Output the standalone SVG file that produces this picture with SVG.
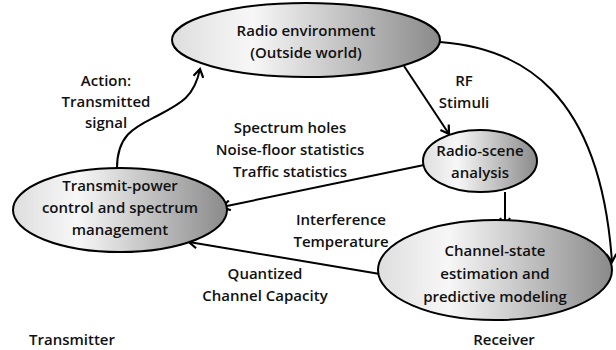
<svg xmlns="http://www.w3.org/2000/svg" width="616" height="350" viewBox="0 0 616 350">
<defs>
<linearGradient id="g" x1="0" y1="0" x2="1" y2="0">
<stop offset="0" stop-color="#dedede"/>
<stop offset="0.3" stop-color="#f7f7f7"/>
<stop offset="1" stop-color="#8a8a8a"/>
</linearGradient>
<marker id="a" viewBox="0 0 12 12" refX="10" refY="6" markerWidth="12" markerHeight="12" markerUnits="userSpaceOnUse" orient="auto">
<path d="M2,1 L10,6 L2,11" fill="none" stroke="#000" stroke-width="2.2"/>
</marker>
<style>
.n{fill:url(#g);stroke:#000;stroke-width:2}
.t{font-family:"Open Sans","Liberation Sans",sans-serif;font-weight:600;font-size:15px;fill:#111;text-anchor:middle}
.c{fill:none;stroke:#000;stroke-width:2;marker-end:url(#a)}
</style>
</defs>
<rect width="616" height="350" fill="#fff"/>
<g id="connectors">
<path class="c" d="M117,168 C117,135 135,127 155,117 C180,104 194,98 200,69"/>
<path class="c" d="M404,66 L449,134"/>
<path class="c" d="M440,42 C520,48 600,90 612,262"/>
<path class="c" d="M424,165 L222,207"/>
<path class="c" d="M505,192 L505,226"/>
<path class="c" d="M380,274 L189,242"/>
</g>
<g id="radio-environment">
<ellipse class="n" cx="306" cy="40" rx="134" ry="37"/>
<text class="t" x="306" y="36">Radio environment</text>
<text class="t" x="306" y="58">(Outside world)</text>
</g>
<g id="transmit-power">
<ellipse class="n" cx="120" cy="210" rx="107" ry="42"/>
<text class="t" x="120" y="191">Transmit-power</text>
<text class="t" x="120" y="213">control and spectrum</text>
<text class="t" x="120" y="235">management</text>
</g>
<g id="radio-scene">
<ellipse class="n" cx="480" cy="161" rx="57" ry="31"/>
<text class="t" x="480" y="156">Radio-scene</text>
<text class="t" x="480" y="178">analysis</text>
</g>
<g id="channel-state">
<ellipse class="n" cx="495" cy="270" rx="117" ry="50"/>
<text class="t" x="495" y="256">Channel-state</text>
<text class="t" x="495" y="279">estimation and</text>
<text class="t" x="495" y="302">predictive modeling</text>
</g>
<g id="labels">
<text class="t" x="106" y="86">Action:</text>
<text class="t" x="106" y="107">Transmitted</text>
<text class="t" x="106" y="128">signal</text>
<text class="t" x="464" y="86">RF</text>
<text class="t" x="464" y="108">Stimuli</text>
<text class="t" x="290" y="133">Spectrum holes</text>
<text class="t" x="290" y="155">Noise-floor statistics</text>
<text class="t" x="290" y="177">Traffic statistics</text>
<text class="t" x="341" y="225">Interference</text>
<text class="t" x="341" y="247">Temperature</text>
<text class="t" x="265" y="279">Quantized</text>
<text class="t" x="265" y="301">Channel Capacity</text>
<text class="t" x="72" y="345">Transmitter</text>
<text class="t" x="504" y="345">Receiver</text>
</g>
</svg>
